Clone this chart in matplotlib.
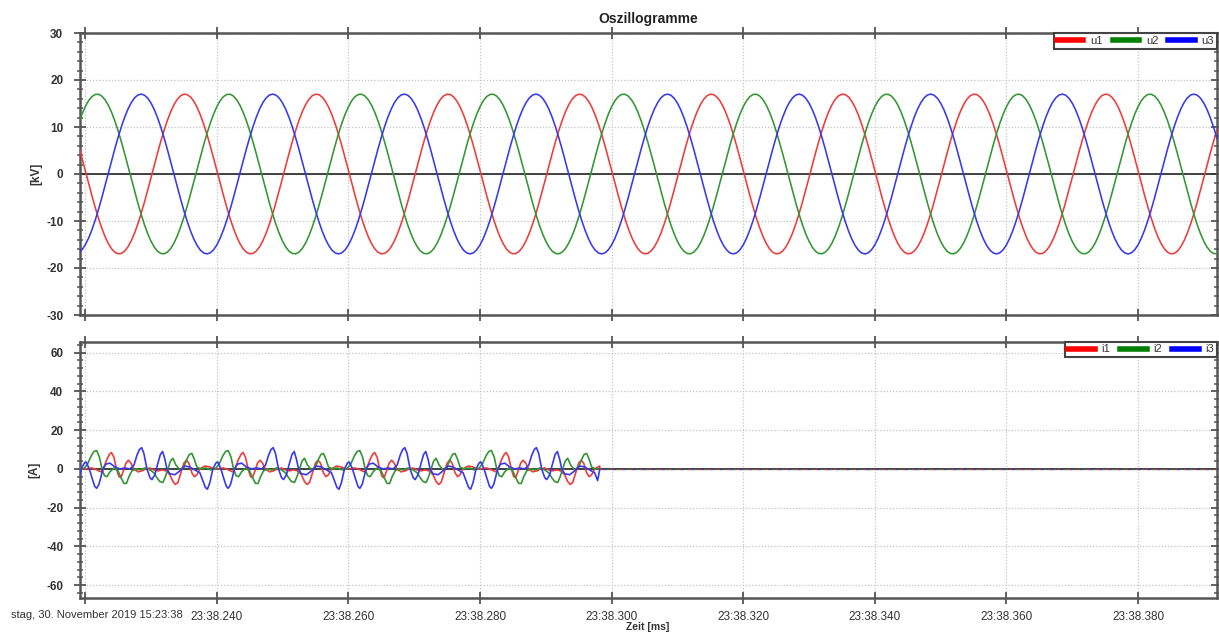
import numpy as np
import matplotlib
matplotlib.use("Agg")
import matplotlib.pyplot as plt
from matplotlib.ticker import MultipleLocator, FixedLocator
from matplotlib.lines import Line2D

plt.rcParams['font.family'] = ['Liberation Sans', 'DejaVu Sans']
plt.rcParams['axes.unicode_minus'] = False

# ---------------- data ----------------
# time axis in ms after 23:38.000
x_range = (219.2, 392.0)
x_ticks = [220, 240, 260, 280, 300, 320, 340, 360, 380]
x_tick_labels = ["", "23:38.240", "23:38.260", "23:38.280", "23:38.300",
                 "23:38.320", "23:38.340", "23:38.360", "23:38.380"]
date_label = "stag, 30. November 2019 15:23:38"

# voltages: one 20 ms cycle sampled every 0.5 ms, starting at t = 200 ms [kV]
u_cycle_start = 200.0
u_step = 0.5
u1_cycle = [0.75, -1.92, -4.54, -7.05, -9.38, -11.48, -13.30, -14.79, -15.92, -16.66,
            -16.98, -16.89, -16.38, -15.47, -14.18, -12.54, -10.59, -8.38, -5.96, -3.39,
            -0.75, 1.92, 4.54, 7.05, 9.38, 11.48, 13.30, 14.79, 15.92, 16.66,
            16.98, 16.89, 16.38, 15.47, 14.18, 12.54, 10.59, 8.38, 5.96, 3.39]
u2_cycle = [14.33, 15.59, 16.46, 16.92, 16.97, 16.60, 15.82, 14.65, 13.12, 11.27,
            9.14, 6.78, 4.26, 1.64, -1.03, -3.67, -6.23, -8.62, -10.81, -12.73,
            -14.33, -15.59, -16.46, -16.92, -16.97, -16.60, -15.82, -14.65, -13.12, -11.27,
            -9.14, -6.78, -4.26, -1.64, 1.03, 3.67, 6.23, 8.62, 10.81, 12.73]
u3_cycle = [-15.08, -13.67, -11.92, -9.88, -7.59, -5.12, -2.52, 0.14, 2.80, 5.39,
            7.84, 10.11, 12.12, 13.84, 15.21, 16.21, 16.81, 17.00, 16.77, 16.12,
            15.08, 13.67, 11.92, 9.88, 7.59, 5.12, 2.52, -0.14, -2.80, -5.39,
            -7.84, -10.11, -12.12, -13.84, -15.21, -16.21, -16.81, -17.00, -16.77, -16.12]
n_u_cycles = 10

# currents: one 20 ms cycle (time offset in ms, value in A), repeating from t = 200 ms
i_cycle_start = 200.0
i_cut = 298.2            # currents vanish after this time
i1_t = [0.00, 1.02, 1.78, 2.38, 2.84, 3.30, 3.67, 3.98, 4.36, 4.74, 5.12, 5.42, 5.80,
        6.18, 6.56, 6.94, 7.40, 8.00, 8.61, 9.22, 9.83, 10.43, 11.04, 11.65, 12.26,
        12.86, 13.32, 13.70, 14.08, 14.53, 14.99, 15.37, 15.75, 16.20, 16.58, 16.96,
        17.42, 18.18, 18.94, 19.54]
i1_v = [0, 0.5, -0.5, -1.5, 1, 5, 7.5, 8.5, 6, 0, -4, -4.5, -1,
        3, 4.5, 3, 0, -1.5, -1, 0, 0.5, -0.5, -1, -0.5, -1,
        -3, -6.5, -8, -7, -2, 3, 4.5, 3, -2, -4, -3,
        0, 1.5, 1, 0]
i2_t = [0.00, 0.41, 0.87, 1.32, 1.73, 2.16, 2.54, 2.92, 3.30, 3.75, 4.36, 4.97, 5.50,
        5.88, 6.26, 6.64, 7.09, 7.70, 8.31, 9.07, 9.83, 10.43, 10.89, 11.34, 11.80,
        12.18, 12.56, 12.94, 13.32, 13.77, 14.38, 14.99, 15.44, 15.82, 16.20, 16.58,
        16.96, 17.57, 18.33, 19.09, 19.70]
i2_v = [1, 3, 6.5, 9, 9.5, 6, 0, -3.5, -4, -1.5, 0.5, -1, -5,
        -7.5, -7.5, -4, -1, 0, -0.5, 0.5, -0.5, -2, -4.5, -6.5, -7,
        -4, 0, 4, 5.5, 2, -0.5, 1, 5, 7.5, 8, 5,
        1, 0, 0.5, -0.5, 0]
i3_t = [0.00, 0.15, 0.61, 1.06, 1.44, 1.73, 2.08, 2.38, 2.69, 3.14, 3.75, 4.51, 5.27,
        6.03, 6.79, 7.40, 7.85, 8.23, 8.56, 8.91, 9.37, 9.83, 10.13, 10.58, 11.04,
        11.42, 11.75, 12.10, 12.41, 12.86, 13.62, 14.38, 15.14, 15.90, 16.66, 17.42,
        17.87, 18.25, 18.56, 18.94, 19.39, 19.85]
i3_v = [3.5, 3.5, 0, -5, -9, -10, -8, -4, 0, 2.5, 3, 1, 0,
        0.5, 0, 2, 7, 10, 11, 8, 0, -4.5, -5.5, -3, 3,
        7.5, 9, 5, 0, -2.5, -3, -1, 1.5, 1, -0.5, -2,
        -6, -9.5, -10.5, -7, 0, 3]
n_i_cycles = 6

u_names = ["u1", "u2", "u3"]
i_names = ["i1", "i2", "i3"]
trace_colors = ["#ee3b3b", "#329632", "#3838f0"]
legend_colors = ["#ff0000", "#008000", "#0000ff"]
tail_dashes = [(0, (3, 4)), (2.5, (2, 5)), (5, (2, 5))]


def voltage_series(cycle):
    vals = np.tile(np.asarray(cycle, float), n_u_cycles)
    t = u_cycle_start + u_step * np.arange(vals.size)
    return t, vals


def current_series(ct, cv):
    ct = np.asarray(ct, float)
    cv = np.asarray(cv, float)
    t = np.concatenate([i_cycle_start + 20.0 * n + ct for n in range(n_i_cycles)])
    v = np.tile(cv, n_i_cycles)
    keep = t <= i_cut
    t = np.concatenate([t[keep], [i_cut]])
    v = np.concatenate([v[keep], [0.0]])
    return t, v


# ---------------- figure ----------------
W, H = 1219, 633
fig = plt.figure(figsize=(W / 100, H / 100), dpi=100)
left = 80 / W
width = 1137 / W
ax1 = fig.add_axes([left, 1 - 315 / H, width, 282 / H])
ax2 = fig.add_axes([left, 1 - 598.3 / H, width, 256.6 / H])

spine_col = "#555555"
grid_col = "#c4c4c4"
text_col = "#333333"

for ax in (ax1, ax2):
    ax.set_xlim(*x_range)
    ax.xaxis.set_major_locator(FixedLocator(x_ticks))
    ax.grid(True, which="major", color=grid_col, linestyle=(0, (1, 1.5)), linewidth=0.9)
    for s in ax.spines.values():
        s.set_color(spine_col)
        s.set_linewidth(1.8)
    ax.tick_params(axis="both", which="major", direction="inout", length=8, width=1.3,
                   color=spine_col, labelcolor=text_col)
    ax.tick_params(axis="y", which="minor", direction="inout", length=4, width=1.1,
                   color=spine_col)
    ax.tick_params(axis="x", which="both", top=True)
    ax.tick_params(axis="y", which="both", right=True)
    ax.tick_params(axis="y", which="major", labelsize=8.5, pad=8)
    ax.tick_params(axis="x", which="major", labelsize=8.5, pad=5)
    ax.axhline(0, color="#333333", linewidth=1.3, zorder=2)

# top: voltages
for cyc, col in zip([u1_cycle, u2_cycle, u3_cycle], trace_colors):
    t, v = voltage_series(cyc)
    ax1.plot(t, v, color=col, linewidth=1.15, zorder=3)
ax1.set_ylim(-30, 30)
ax1.yaxis.set_major_locator(MultipleLocator(10))
ax1.yaxis.set_minor_locator(MultipleLocator(2))
ax1.set_xticklabels([])
ax1.set_ylabel("[kV]", fontsize=8.5, fontweight="bold", color=text_col)
ax1.yaxis.set_label_coords(-38 / 1137, 0.5)

# bottom: currents
for (ct, cv), col, ds in zip([(i1_t, i1_v), (i2_t, i2_v), (i3_t, i3_v)],
                             trace_colors, tail_dashes):
    t, v = current_series(ct, cv)
    ax2.plot(t, v, color=col, linewidth=1.2, zorder=3)
    ax2.plot([i_cut, x_range[1] + 5], [0.0, 0.0], color=col, linewidth=1.0,
             linestyle=ds, alpha=0.7, zorder=3)
ax2.set_ylim(-66.8, 65.7)
ax2.yaxis.set_major_locator(MultipleLocator(20))
ax2.yaxis.set_minor_locator(MultipleLocator(4))
ax2.set_xticklabels(x_tick_labels)
ax2.set_ylabel("[A]", fontsize=8.5, fontweight="bold", color=text_col)
ax2.yaxis.set_label_coords(-40 / 1137, 0.5)

for ax in (ax1, ax2):
    for lab in ax.get_yticklabels():
        lab.set_fontweight("bold")


# legends
def add_legend(ax, names):
    handles = [Line2D([], [], color=c, linewidth=4) for c in legend_colors]
    leg = ax.legend(handles, names, ncol=3, loc="upper right", bbox_to_anchor=(1.0, 1.0),
                    borderaxespad=0.0, fontsize=8, frameon=True, fancybox=False,
                    handlelength=2.4, handletextpad=0.6, columnspacing=0.9,
                    borderpad=0.25, labelspacing=0.2, framealpha=1.0)
    leg.get_frame().set_edgecolor("#444444")
    leg.get_frame().set_linewidth(1.5)
    for txt in leg.get_texts():
        txt.set_color(text_col)
    leg.set_zorder(10)


add_legend(ax1, u_names)
add_legend(ax2, i_names)

fig.text((80 + 1217) / 2 / W, 1 - 19 / H, "Oszillogramme", ha="center", va="center",
         fontsize=10, fontweight="bold", color="#222222")
fig.text(648 / W, 1 - 627.5 / H, "Zeit [ms]", ha="center", va="center",
         fontsize=7.5, fontweight="bold", color=text_col)
fig.text(183 / W, 1 - 615 / H, date_label, ha="right", va="center",
         fontsize=8, color=text_col)

fig.savefig("out.png", dpi=100)
